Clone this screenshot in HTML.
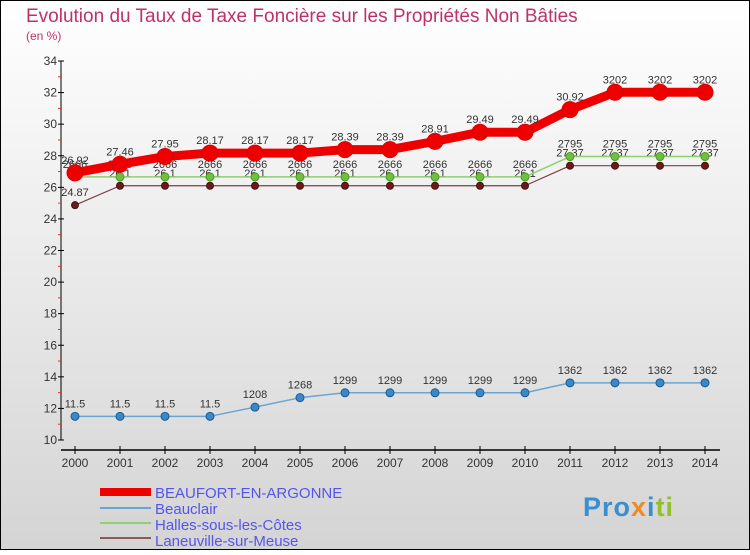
<!DOCTYPE html>
<html><head><meta charset="utf-8"><style>
body{margin:0;width:750px;height:550px;overflow:hidden;font-family:"Liberation Sans",sans-serif}
</style></head><body>
<svg width="750" height="550" xmlns="http://www.w3.org/2000/svg" id="svg">
<defs><linearGradient id="bg" x1="0" y1="0" x2="0" y2="1"><stop offset="0" stop-color="#ffffff"/><stop offset="1" stop-color="#d4d4d4"/></linearGradient></defs>
<rect x="0.5" y="0.5" width="749" height="549" fill="url(#bg)" stroke="#000"/>
<text x="26" y="22" font-size="19" fill="#c0306a">Evolution du Taux de Taxe Foncière sur les Propriétés Non Bâties</text>
<text x="26" y="40" font-size="12" fill="#c0306a">(en %)</text>
<g id="axes"></g><g id="series"></g>
<g font-size="15" fill="#5555ee">
<rect x="100" y="488" width="51" height="8" fill="#e00"/>
<text x="155" y="498">BEAUFORT-EN-ARGONNE</text>
<rect x="100" y="507" width="51" height="2" fill="#6aa6d0"/>
<text x="155" y="514">Beauclair</text>
<rect x="100" y="522" width="51" height="2" fill="#8fd070"/>
<text x="155" y="530">Halles-sous-les-Côtes</text>
<rect x="100" y="537" width="51" height="2" fill="#8a5a5a"/>
<text x="155" y="546">Laneuville-sur-Meuse</text>
</g>
<text x="583" y="516" font-size="27" font-weight="bold" letter-spacing="1"><tspan fill="#3a8fd0">Pro</tspan><tspan fill="#f08a20">x</tspan><tspan fill="#3a8fd0">i</tspan><tspan fill="#90c030">ti</tspan></text>
</svg>
<script>
const years=[2000,2001,2002,2003,2004,2005,2006,2007,2008,2009,2010,2011,2012,2013,2014];
const beaufort=[26.92,27.46,27.95,28.17,28.17,28.17,28.39,28.39,28.91,29.49,29.49,30.92,32.02,32.02,32.02];
const beauclair=[11.5,11.5,11.5,11.5,12.08,12.68,12.99,12.99,12.99,12.99,12.99,13.62,13.62,13.62,13.62];
const halles=[26.66,26.66,26.66,26.66,26.66,26.66,26.66,26.66,26.66,26.66,26.66,27.95,27.95,27.95,27.95];
const laneuville=[24.87,26.1,26.1,26.1,26.1,26.1,26.1,26.1,26.1,26.1,26.1,27.37,27.37,27.37,27.37];
const yTicks=[10,12,14,16,18,20,22,24,26,28,30,32,34];
const NS="http://www.w3.org/2000/svg";
const X=i=>75+i*45, Y=v=>440-(v-10)*(379/24);
const fmt=v=>String(v).replace('.','');
function mk(t,a,p){const e=document.createElementNS(NS,t);for(const k in a)e.setAttribute(k,a[k]);p.appendChild(e);return e;}
const ax=document.getElementById('axes');
const yl=mk('line',{x1:61,y1:Y(34),x2:61,y2:Y(10),stroke:'#000'},ax);


const xl=mk('line',{x1:61,y1:450,x2:720,y2:450,stroke:'#000','stroke-width':1.5},ax);


yTicks.forEach(v=>{
  mk('line',{x1:58,y1:Y(v),x2:64,y2:Y(v),stroke:'#000'},ax);
  mk('line',{x1:58,y1:Y(v+1),x2:62,y2:Y(v+1),stroke:v<34?'#e33':'none'},ax);
  const t=mk('text',{x:57,y:Y(v)+4,'font-size':12,'text-anchor':'end',fill:'#333'},ax);t.textContent=v;
  
  
});
years.forEach((y,i)=>{
  mk('line',{x1:X(i),y1:446,x2:X(i),y2:454,stroke:'#000'},ax);
  const t=mk('text',{x:X(i),y:467,'font-size':12,'text-anchor':'middle',fill:'#333'},ax);t.textContent=y;
  
  
});
const sg=document.getElementById('series');
function draw(name,data,color,w,r,dot,stroke,labelFmt){
  const g=mk('g',{},sg);
  
  
  mk('polyline',{points:data.map((v,i)=>X(i)+','+Y(v)).join(' '),fill:'none',stroke:color,'stroke-width':w,'stroke-linejoin':'round'},g);
  data.forEach((v,i)=>{
    const c=mk('circle',{cx:X(i),cy:Y(v),r:r,fill:dot,stroke:stroke,'stroke-width':1},g);
    
    
    const t=mk('text',{x:X(i),y:Y(v)-9,'font-size':11,'text-anchor':'middle',fill:'#333'},g);t.textContent=labelFmt(v);
    
    
  });
}
draw('laneuville',laneuville,'#7a4040',1.2,3.5,'#6a1a1a','#4a1010',v=>String(v));
draw('halles',halles,'#8fd070',1.5,4,'#70c040','#4a9a20',fmt);
draw('beauclair',beauclair,'#6aa6d0',1.5,4,'#3a88c8','#1e5a90',v=>v===11.5?'11.5':fmt(v));
draw('beaufort',beaufort,'#ee0000',9,8,'#ee0000','#dd0000',v=>[26.92,27.46,27.95,28.17,28.39,28.91,29.49,30.92].includes(v)?String(v):fmt(v));
</script>
</body></html>
